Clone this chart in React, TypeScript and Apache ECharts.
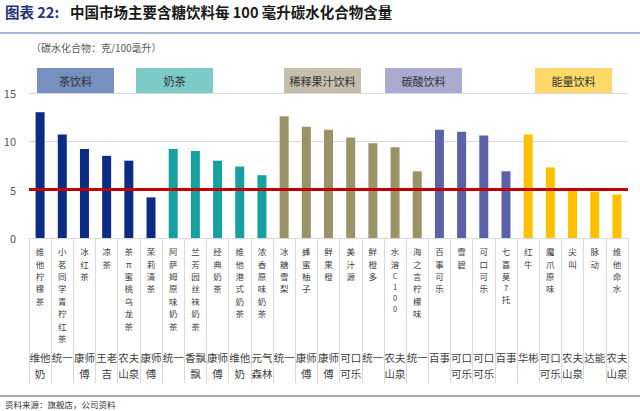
import React, { useEffect, useRef } from "react";
import * as echarts from "echarts";

const categories = [
  "维他柠檬茶", "小茗同学青柠红茶", "冰红茶", "凉茶", "茶π蜜桃乌龙茶", "茉莉清茶",
  "阿萨姆原味奶茶", "兰芳园丝袜奶茶", "经典奶茶", "维他港式奶茶", "浓香原味奶茶",
  "冰糖雪梨", "蜂蜜柚子", "鲜果橙", "美汁源", "鲜橙多", "水溶C100", "海之言柠檬味",
  "百事可乐", "雪碧", "可口可乐", "七喜莫7托",
  "红牛", "魔爪原味", "尖叫", "脉动", "维他命水",
];
const brands = [
  "维他奶", "统一", "康师傅", "王老吉", "农夫山泉", "康师傅",
  "统一", "香飘飘", "康师傅", "维他奶", "元气森林",
  "统一", "康师傅", "康师傅", "可口可乐", "统一", "农夫山泉", "统一",
  "百事", "可口可乐", "可口可乐", "百事",
  "华彬", "可口可乐", "农夫山泉", "达能", "农夫山泉",
];
const carbs = [
  13.0, 10.7, 9.2, 8.5, 8.0, 4.2,
  9.2, 9.0, 8.0, 7.4, 6.5,
  12.6, 11.5, 11.2, 10.4, 9.8, 9.4, 6.9,
  11.2, 11.0, 10.6, 6.9,
  10.7, 7.3, 5.0, 4.8, 4.5,
];
const groupOf = [
  0, 0, 0, 0, 0, 0,
  1, 1, 1, 1, 1,
  2, 2, 2, 2, 2, 2, 2,
  3, 3, 3, 3,
  4, 4, 4, 4, 4,
];
const groupNames = ["茶饮料", "奶茶", "稀释果汁饮料", "碳酸饮料", "能量饮料"];
const barColors = ["#0b2b84", "#17a0a0", "#999367", "#5b63a8", "#ffc000"];
const boxColors = ["#7690c0", "#7ccbc7", "#c3bfac", "#aaabd0", "#ffd86a"];
const yTicks = [0, 5, 10, 15];
const refLine = 5;

const FONT = '"Noto Sans CJK SC", "Noto Sans", sans-serif';

export default function App() {
  const ref = useRef<HTMLDivElement>(null);
  useEffect(() => {
    if (!ref.current) return;
    const chart = echarts.init(ref.current, null, { renderer: "svg" });
    const boxX = [37, 136, 284, 385, 535];
    const graphics: any[] = [
      {
        type: "text", left: 5, top: 4,
        style: { text: "图表 22:", font: `bold 14.5px ${FONT}`, fill: "#253377" },
      },
      {
        type: "text", left: 70, top: 4,
        style: { text: "中国市场主要含糖饮料每 100 毫升碳水化合物含量", font: `bold 14.5px ${FONT}`, fill: "#1a1a1a" },
      },
      {
        type: "line", shape: { x1: 0, y1: 33, x2: 640, y2: 33 },
        style: { stroke: "#8fa0c8", lineWidth: 1.5 },
      },
      {
        type: "text", left: 31, top: 42,
        style: { text: "（碳水化合物：克/100毫升）", font: `10px ${FONT}`, fill: "#595959" },
      },
      {
        type: "line", shape: { x1: 0, y1: 396, x2: 640, y2: 396 },
        style: { stroke: "#a6a6a6", lineWidth: 2 },
      },
      {
        type: "text", left: 5, top: 400,
        style: { text: "资料来源：旗舰店，公司资料", font: `8.5px ${FONT}`, fill: "#333333" },
      },
    ];
    groupNames.forEach((g, i) => {
      graphics.push({
        type: "rect",
        shape: { x: boxX[i], y: 68, width: 77, height: 25 },
        style: { fill: boxColors[i] },
      });
      graphics.push({
        type: "text",
        x: boxX[i] + 38.5, y: 80.5,
        style: { text: g, font: `11px ${FONT}`, fill: "#333333", align: "center", verticalAlign: "middle" },
      });
    });

    chart.setOption({
      animation: false,
      backgroundColor: "#ffffff",
      grid: { left: 29, right: 12, top: 93, bottom: 173 },
      yAxis: {
        type: "value",
        min: yTicks[0],
        max: yTicks[yTicks.length - 1],
        interval: 5,
        axisLine: { show: false },
        axisTick: { show: false },
        axisLabel: { color: "#595959", fontSize: 11, margin: 13, fontFamily: FONT },
        splitLine: { lineStyle: { color: "#d9d9d9", width: 1 } },
      },
      xAxis: [
        {
          type: "category",
          data: categories,
          axisLine: { lineStyle: { color: "#d9d9d9", width: 1 } },
          axisTick: { show: true, length: 145, interval: 0, lineStyle: { color: "#d9d9d9" } },
          axisLabel: {
            interval: 0,
            margin: 7,
            color: "#404040",
            fontFamily: FONT,
            formatter: (v: string) =>
              v.split("").map((c) => (/[\x00-\x7f]/.test(c) ? `{a|${c}}` : `{c|${c}}`)).join("\n"),
            rich: {
              c: { fontSize: 8.5, lineHeight: 12.4, color: "#404040", fontFamily: FONT },
              a: { fontSize: 7.5, lineHeight: 11, color: "#404040", fontFamily: FONT },
            },
          },
        },
        {
          type: "category",
          data: brands,
          position: "bottom",
          offset: 103,
          axisLine: { show: false },
          axisTick: { show: false },
          axisLabel: {
            interval: 0,
            margin: 8,
            fontSize: 10.5,
            lineHeight: 16,
            color: "#404040",
            fontFamily: FONT,
            formatter: (v: string) => {
              const parts: string[] = [];
              for (let i = 0; i < v.length; i += 2) parts.push(v.slice(i, i + 2));
              return parts.join("\n");
            },
          },
        },
      ],
      series: [
        {
          type: "bar",
          xAxisIndex: 0,
          barWidth: 9,
          data: carbs.map((v, i) => ({ value: v, itemStyle: { color: barColors[groupOf[i]] } })),
          markLine: {
            silent: true,
            symbol: "none",
            label: { show: false },
            lineStyle: { color: "#c00000", width: 3, type: "solid" },
            data: [{ yAxis: refLine }],
          },
        },
      ],
      graphic: graphics,
    });
    return () => chart.dispose();
  }, []);
  return (
    <div
      ref={ref}
      style={{ position: "fixed", left: 0, top: 0, width: 640, height: 411, background: "#fff" }}
    />
  );
}
